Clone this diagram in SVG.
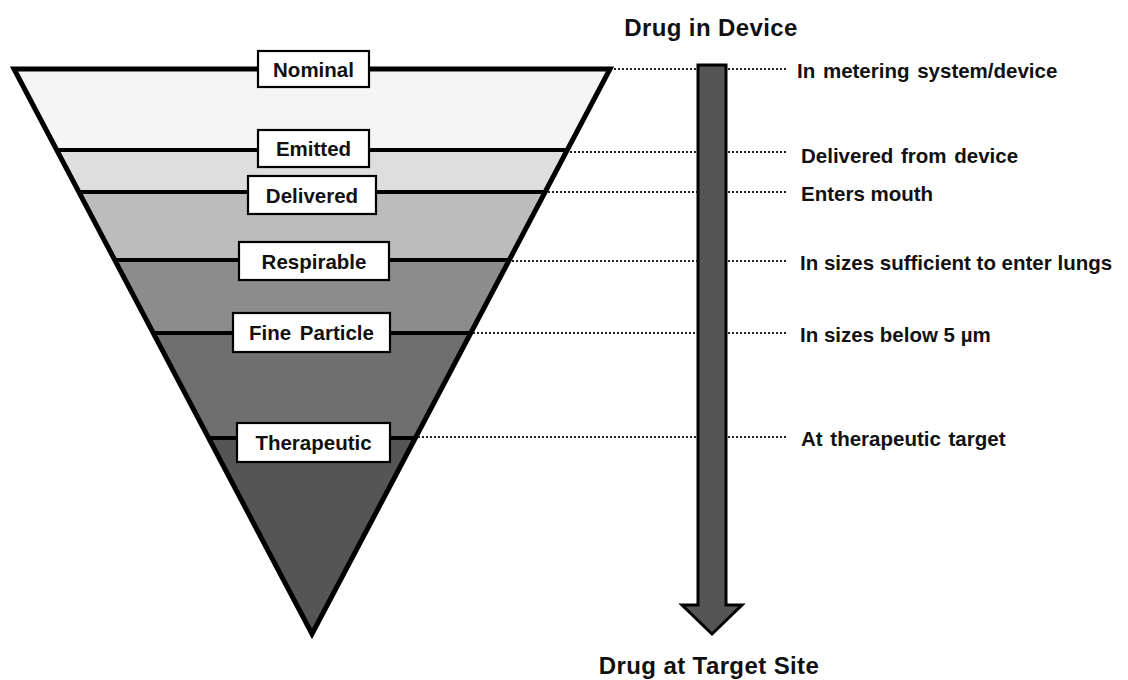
<svg xmlns="http://www.w3.org/2000/svg" width="1128" height="680" viewBox="0 0 1128 680">
<style>
.band{stroke:none}
.bl{stroke:#000;stroke-width:4;fill:none}
.outline{fill:none;stroke:#000;stroke-width:5;stroke-linejoin:miter;stroke-miterlimit:10}
.box{fill:#fff;stroke:#000;stroke-width:2.2}
.lbl{font-family:"Liberation Sans",Arial,sans-serif;font-weight:bold;font-size:20.5px;text-anchor:middle;dominant-baseline:central;fill:#111}
.rt{font-family:"Liberation Sans",Arial,sans-serif;font-weight:bold;font-size:20.5px;dominant-baseline:central;fill:#111}
.title{font-family:"Liberation Sans",Arial,sans-serif;font-weight:bold;font-size:24px;letter-spacing:0.4px;text-anchor:middle;dominant-baseline:central;fill:#111}
.dot{stroke:#222;stroke-width:2;stroke-dasharray:2 2;fill:none}
</style>
<rect width="1128" height="680" fill="#fff"/>
<g id="funnel">
<polygon class="band" fill="#f5f5f5" points="14,69 610,69 567.3,150 56.7,150"/>
<polygon class="band" fill="#dedede" points="56.7,150 567.3,150 545.1,192 78.9,192"/>
<polygon class="band" fill="#bcbcbc" points="78.9,192 545.1,192 509.3,260 114.7,260"/>
<polygon class="band" fill="#8c8c8c" points="114.7,260 509.3,260 470.8,333 153.2,333"/>
<polygon class="band" fill="#6f6f6f" points="153.2,333 470.8,333 415.4,438 208.6,438"/>
<polygon class="band" fill="#555555" points="208.6,438 415.4,438 312,634"/>
<line class="bl" x1="56.7" y1="150" x2="567.3" y2="150"/>
<line class="bl" x1="78.9" y1="192" x2="545.1" y2="192"/>
<line class="bl" x1="114.7" y1="260" x2="509.3" y2="260"/>
<line class="bl" x1="153.2" y1="333" x2="470.8" y2="333"/>
<line class="bl" x1="208.6" y1="438" x2="415.4" y2="438"/>
<polygon class="outline" points="14,69 610,69 312,634"/>
</g>
<g id="nominal"><rect class="box" x="258" y="51" width="111" height="36"/><text class="lbl" x="313.5" y="69">Nominal</text></g>
<g id="emitted"><rect class="box" x="258" y="130" width="111" height="37"/><text class="lbl" x="313.5" y="148.5">Emitted</text></g>
<g id="delivered"><rect class="box" x="248" y="176" width="128" height="38"/><text class="lbl" x="312" y="195">Delivered</text></g>
<g id="respirable"><rect class="box" x="239" y="242" width="150" height="38"/><text class="lbl" x="314" y="261">Respirable</text></g>
<g id="fine-particle"><rect class="box" x="233" y="313" width="157" height="39"/><text class="lbl" x="311.5" y="332" word-spacing="3">Fine Particle</text></g>
<g id="therapeutic"><rect class="box" x="237" y="423" width="153" height="39"/><text class="lbl" x="313.5" y="442.5">Therapeutic</text></g>
<g id="connectors">
<line class="dot" x1="614" y1="69" x2="697" y2="69"/>
<line class="dot" x1="570" y1="152" x2="697" y2="152"/>
<line class="dot" x1="548" y1="192" x2="697" y2="192"/>
<line class="dot" x1="512" y1="261" x2="697" y2="261"/>
<line class="dot" x1="473" y1="333" x2="697" y2="333"/>
<line class="dot" x1="418" y1="437" x2="697" y2="437"/>
<line class="dot" x1="728" y1="69" x2="788" y2="69"/>
<line class="dot" x1="728" y1="152" x2="788" y2="152"/>
<line class="dot" x1="728" y1="192" x2="788" y2="192"/>
<line class="dot" x1="728" y1="261" x2="788" y2="261"/>
<line class="dot" x1="728" y1="333" x2="788" y2="333"/>
<line class="dot" x1="728" y1="437" x2="788" y2="437"/>
</g>
<g id="arrow">
<polygon points="698,65 726,65 726,605 742,605 712,634 682,605 698,605" fill="#555" stroke="#000" stroke-width="3" stroke-linejoin="miter"/>
</g>
<g id="drug-in-device"><text class="title" x="711" y="27">Drug in Device</text></g>
<g id="drug-at-target"><text class="title" x="709" y="665">Drug at Target Site</text></g>
<g id="right-labels">
<text class="rt" x="797" y="70" word-spacing="2">In metering system/device</text>
<text class="rt" x="801" y="155" word-spacing="2">Delivered from device</text>
<text class="rt" x="801" y="193">Enters mouth</text>
<text class="rt" x="800" y="262">In sizes sufficient to enter lungs</text>
<text class="rt" x="800" y="334">In sizes below 5 µm</text>
<text class="rt" x="801" y="438" word-spacing="2">At therapeutic target</text>
</g>
</svg>
